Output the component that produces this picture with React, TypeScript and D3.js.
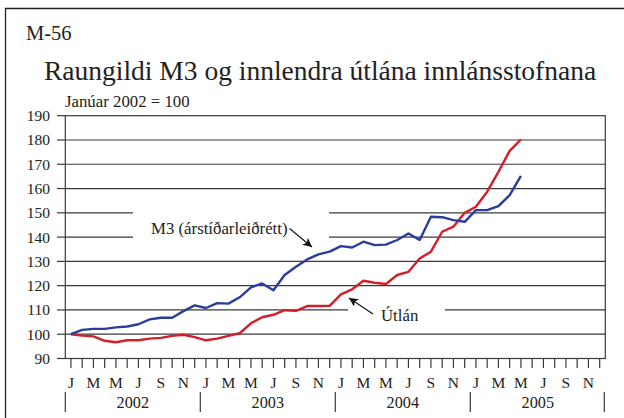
import React from "react";
import * as d3 from "d3";

const yearLabels = ["2002", "2003", "2004", "2005"];
const monthLetters = ["J", "F", "M", "A", "M", "J", "J", "A", "S", "O", "N", "D"];
const yTicks = [90, 100, 110, 120, 130, 140, 150, 160, 170, 180, 190];

// Jan 2002 .. May 2005, index Jan 2002 = 100
const m3Values = [
  100, 101.8, 102.2, 102.2, 102.8, 103.2, 104.1, 106.1, 106.8, 106.8, 109.5, 111.9,
  110.8, 112.8, 112.6, 115.2, 119.3, 120.9, 118.1, 124.4, 127.8, 130.8, 132.9, 134.0,
  136.3, 135.7, 138.1, 136.7, 136.9, 138.8, 141.5, 138.8, 148.4, 148.2, 147.0, 146.3,
  151.1, 151.1, 152.8, 157.3, 165.2,
];
const utlanValues = [
  100, 99.4, 99.1, 97.3, 96.7, 97.5, 97.5, 98.2, 98.5, 99.3, 99.8, 98.8,
  97.5, 98.2, 99.3, 100.4, 104.5, 107.0, 108.0, 109.9, 109.6, 111.6, 111.6, 111.7,
  116.4, 118.5, 122.0, 121.2, 120.7, 124.4, 125.7, 131.2, 134.0, 142.2, 144.3, 150.0,
  152.5, 158.7, 166.9, 175.5, 180.2,
];

const W = 624;
const H = 418;
const L = 65.3;
const R = 605.3;
const T = 115.7;
const B = 358.5;
const FONT = "'Liberation Serif', 'Times New Roman', serif";
const TXT = "#222";
const GRID = "#3a3a3a";

export default function App() {
  const nMonths = yearLabels.length * 12;
  const x = d3.scaleBand<number>().domain(d3.range(nMonths)).range([L, R]).padding(0);
  const xc = (i: number) => (x(i) as number) + x.bandwidth() / 2;
  const y = d3.scaleLinear().domain([90, 190]).range([B, T]);

  const line = d3
    .line<number>()
    .x((_, i) => xc(i))
    .y((d) => y(d));

  const gridSegments = (v: number): [number, number][] => {
    if (v === 150 || v === 140) return [[L, 133], [329, R]];
    if (v === 110) return [[L, 348], [445, R]];
    return [[L, R]];
  };

  return (
    <svg
      width={W}
      height={H}
      style={{ position: "absolute", left: 0, top: 0, background: "#fff" }}
      fontFamily={FONT}
    >
      <defs>
        <marker id="ah" viewBox="0 0 10 10" refX="10" refY="5" markerWidth="9" markerHeight="9" orient="auto-start-reverse" markerUnits="userSpaceOnUse">
          <path d="M0,0 L10,5 L0,10 L2.5,5 Z" fill="#111" />
        </marker>
      </defs>
      <rect x={0} y={0} width={W} height={H} fill="#fff" />
      <path d={`M5.5,${H + 2} L5.5,8.5 L${W + 2},8.5`} fill="none" stroke="#222" strokeWidth={1.3} />

      <text x={26} y={40} fontSize={20.5} fill={TXT}>M-56</text>
      <text x={44} y={80} fontSize={27.5} fill={TXT}>
        Raungildi M3 og innlendra útlána innlánsstofnana
      </text>
      <text x={65} y={107} fontSize={16.8} fill={TXT}>Janúar 2002 = 100</text>

      {yTicks.slice(1, -1).map((v) =>
        gridSegments(v).map(([a, b], k) => (
          <line key={`${v}-${k}`} x1={a} x2={b} y1={y(v)} y2={y(v)} stroke={GRID} strokeWidth={1.2} />
        ))
      )}
      <rect x={L} y={T} width={R - L} height={B - T} fill="none" stroke={GRID} strokeWidth={1.2} />

      {yTicks.map((v) => (
        <g key={v}>
          <line x1={57} x2={L} y1={y(v)} y2={y(v)} stroke={GRID} strokeWidth={1.2} />
          <text x={50} y={y(v)} dy="0.35em" textAnchor="end" fontSize={15.5} fill={TXT}>
            {v}
          </text>
        </g>
      ))}

      {d3.range(nMonths).map((i) => (
        <line key={i} x1={xc(i)} x2={xc(i)} y1={B} y2={B + 9.5} stroke={GRID} strokeWidth={1.2} />
      ))}
      {d3.range(nMonths)
        .filter((i) => i % 2 === 0)
        .map((i) => (
          <text key={i} x={xc(i)} y={388} textAnchor="middle" fontSize={15.5} fill={TXT}>
            {monthLetters[i % 12]}
          </text>
        ))}
      {yearLabels.map((yr, k) => (
        <text key={yr} x={(x(k * 12) as number) + x.bandwidth() * 6} y={407.5} textAnchor="middle" fontSize={16.2} fill={TXT}>
          {yr}
        </text>
      ))}
      {d3.range(yearLabels.length + 1).map((k) => {
        const xx = k < yearLabels.length ? (x(k * 12) as number) : R - 1;
        return <line key={k} x1={xx} x2={xx} y1={392} y2={412} stroke={GRID} strokeWidth={1.2} />;
      })}

      <path d={line(utlanValues) || ""} fill="none" stroke="#d21f2b" strokeWidth={2.4} strokeLinejoin="round" />
      <path d={line(m3Values) || ""} fill="none" stroke="#2b3c9c" strokeWidth={2.4} strokeLinejoin="round" />

      <text x={151} y={228} dy="0.35em" fontSize={16.8} fill={TXT}>M3 (árstíðarleiðrétt)</text>
      <line x1={289.5} y1={228.5} x2={312} y2={247} stroke="#111" strokeWidth={1.1} markerEnd="url(#ah)" />
      <text x={381} y={315} dy="0.35em" fontSize={16.8} fill={TXT}>Útlán</text>
      <line x1={373} y1={314} x2={349} y2={298} stroke="#111" strokeWidth={1.1} markerEnd="url(#ah)" />
    </svg>
  );
}
